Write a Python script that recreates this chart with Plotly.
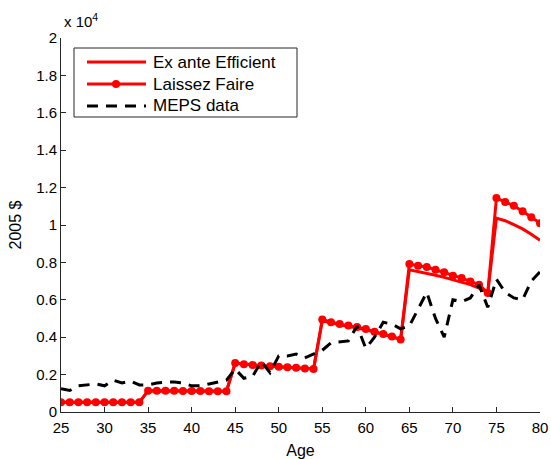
import plotly.graph_objects as go

ages = list(range(25, 81))

laissez_faire = [
    520, 520, 520, 520, 520, 520, 520, 520, 520, 520,            # 25-34
    1140, 1130, 1130, 1130, 1120, 1120, 1120, 1110, 1110, 1110,  # 35-44
    2620, 2560, 2520, 2480, 2450, 2420, 2390, 2360, 2330, 2300,  # 45-54
    4940, 4800, 4700, 4620, 4540, 4440, 4290, 4170, 4040, 3880,  # 55-64
    7910, 7820, 7750, 7610, 7470, 7290, 7160, 6980, 6810, 6360,  # 65-74
    11440, 11230, 11030, 10730, 10420, 10100,                    # 75-80
]

ex_ante_efficient = [
    520, 520, 520, 520, 520, 520, 520, 520, 520, 520,
    1140, 1130, 1130, 1130, 1120, 1120, 1120, 1110, 1110, 1110,
    2600, 2550, 2510, 2470, 2440, 2410, 2380, 2350, 2320, 2300,
    4880, 4760, 4660, 4580, 4500, 4400, 4270, 4150, 4030, 3880,
    7610, 7520, 7420, 7310, 7200, 7080, 6950, 6810, 6620, 6380,
    10370, 10230, 10020, 9790, 9500, 9180,
]

meps_data = [
    1250, 1150, 1400, 1450, 1500, 1400, 1700, 1550, 1650, 1450,  # 25-34
    1450, 1550, 1600, 1600, 1550, 1400, 1400, 1500, 1600, 1700,  # 35-44
    2300, 1800, 1900, 2700, 2100, 3000, 3000, 3100, 2900, 3100,  # 45-54
    3300, 3700, 3750, 3800, 4600, 3400, 4000, 4800, 4700, 4450,  # 55-64
    4600, 5500, 6400, 5000, 4000, 6000, 5900, 6100, 6800, 5600,  # 65-74
    7100, 6400, 6100, 6000, 7000, 7500,                          # 75-80
]

y_tick_vals = [i * 2000 for i in range(11)]
y_tick_text = ["0", "0.2", "0.4", "0.6", "0.8", "1", "1.2", "1.4", "1.6", "1.8", "2"]
x_tick_vals = list(range(25, 81, 5))

legend_labels = ["Ex ante Efficient", "Laissez Faire", "MEPS data"]

RED = "#ff0000"
AXC = "#262626"
FONT = "Liberation Sans, Arial, sans-serif"

fig = go.Figure()
fig.add_trace(go.Scatter(x=ages, y=ex_ante_efficient, mode="lines",
                         line=dict(color=RED, width=3), showlegend=False))
fig.add_trace(go.Scatter(x=ages, y=laissez_faire, mode="lines+markers",
                         line=dict(color=RED, width=3),
                         marker=dict(color=RED, size=8), showlegend=False))
fig.add_trace(go.Scatter(x=ages, y=meps_data, mode="lines",
                         line=dict(color="black", width=3, dash="11px,8px"),
                         showlegend=False))

# plot area geometry in pixels (for manual legend placement)
L, R, T, B = 61, 540, 38, 412
W, H = R - L, B - T
def px(x):
    return (x - L) / W
def py(y):
    return (B - y) / H

shapes = [dict(type="rect", xref="paper", yref="paper",
               x0=px(74), x1=px(297), y0=py(117), y1=py(48),
               line=dict(color=AXC, width=1), fillcolor="white", layer="above")]
rows = [62, 84, 106]
for i, r in enumerate(rows):
    col = "black" if i == 2 else RED
    shapes.append(dict(type="line", xref="paper", yref="paper",
                       x0=px(87), x1=px(146), y0=py(r), y1=py(r),
                       line=dict(color=col, width=3, dash="11px,8px" if i == 2 else "solid"),
                       layer="above"))
shapes.append(dict(type="circle", xref="paper", yref="paper",
                   x0=px(112), x1=px(120), y0=py(88), y1=py(80),
                   line=dict(color=RED, width=0), fillcolor=RED, layer="above"))

annotations = []
for lab, r in zip(legend_labels, rows):
    annotations.append(dict(text=lab, xref="paper", yref="paper",
                            x=px(151), y=py(r), xanchor="left", yanchor="middle",
                            showarrow=False, font=dict(family=FONT, size=17, color="black")))
annotations.append(dict(text="x 10<sup>4</sup>", xref="paper", yref="paper",
                        x=px(62), y=py(20), xanchor="left", yanchor="middle",
                        showarrow=False, font=dict(family=FONT, size=15, color="black")))

fig.update_layout(
    width=551, height=459,
    margin=dict(l=L, r=551 - R, t=T, b=459 - B),
    paper_bgcolor="white", plot_bgcolor="white",
    font=dict(family=FONT, size=15, color="black"),
    shapes=shapes, annotations=annotations,
    xaxis=dict(range=[25, 80], tickvals=x_tick_vals, ticks="inside", ticklen=5,
               tickcolor=AXC, showline=True, linecolor=AXC, linewidth=1,
               showgrid=False, zeroline=False, mirror=False, automargin=False,
               ticklabelstandoff=2,
               title=dict(text="Age", font=dict(size=16), standoff=12)),
    yaxis=dict(range=[0, 20000], tickvals=y_tick_vals, ticktext=y_tick_text,
               ticks="inside", ticklen=5, tickcolor=AXC, showline=True,
               linecolor=AXC, linewidth=1, showgrid=False, zeroline=False,
               mirror=False, automargin=False,
               title=dict(text="2005 $", font=dict(size=16), standoff=10)),
)

fig.write_html("out.html")
